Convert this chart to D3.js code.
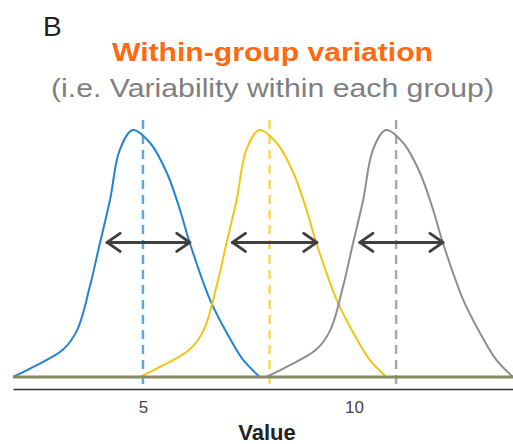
<!DOCTYPE html>
<html lang="en">
<head>
	<meta charset="UTF-8">
	<title>within-group variation</title>
	<style>
	body{ margin:0; background:#fff; }
	svg{ display:block; font-family:"Liberation Sans", Arial, sans-serif; }
	</style>
</head>
<body>
<div class="chart"></div>
<script src="https://d3js.org/d3.v7.min.js"></script>
<script>
// three groups, same spread, different means
var groups = ['g1', 'g2', 'g3'];
var means = [5, 8, 11];
var tickValues = [5, 10];

// density curves: [value, density]
var curveG1 = [[1.92,0],[2.39,0.016],[3.10,0.044],[3.44,0.076],[3.74,0.146],[3.98,0.217],[4.22,0.287],[4.45,0.368],[4.76,0.400],[5.17,0.379],[5.57,0.330],[5.88,0.270],[6.11,0.217],[6.59,0.125],[6.99,0.071],[7.37,0.028],[7.77,0]];
var curveG2 = [[4.92,0],[5.39,0.016],[6.10,0.044],[6.44,0.076],[6.74,0.146],[6.98,0.217],[7.22,0.287],[7.45,0.368],[7.76,0.400],[8.17,0.379],[8.57,0.330],[8.88,0.270],[9.11,0.217],[9.59,0.125],[9.99,0.071],[10.37,0.028],[10.77,0]];
var curveG3 = [[7.92,0],[8.39,0.016],[9.10,0.044],[9.44,0.076],[9.74,0.146],[9.98,0.217],[10.22,0.287],[10.45,0.368],[10.76,0.400],[11.17,0.379],[11.57,0.330],[11.88,0.270],[12.11,0.217],[12.59,0.125],[12.99,0.071],[13.37,0.028],[13.77,0]];

// spread arrows
var arrowFrom = [4.15, 7.12, 10.14];
var arrowTo = [6.11, 9.12, 12.11];
var arrowLevel = 0.218;

var lineColors = ['#2383d1', '#f2c512', '#8e8e8e'];
var dashColors = ['#5ca9df', '#f6d75c', '#a8a8a8'];

var W = 513, H = 444;
var svg = d3.select('.chart')
	.append('svg')
	.attr('width', W)
	.attr('height', H);

var x = d3.scaleLinear().domain([1.92, 13.77]).range([13, 513]);
var y = d3.scaleLinear().domain([0, 0.40]).range([377, 130]);

// titles
svg.append('text')
	.attr('x', 43).attr('y', 36)
	.style('font-size', '28px')
	.style('fill', '#222')
	.text('B');

svg.append('text')
	.attr('x', 112).attr('y', 61)
	.attr('textLength', 321)
	.attr('lengthAdjust', 'spacingAndGlyphs')
	.style('font-size', '25px')
	.style('font-weight', 'bold')
	.style('fill', '#ff6a10')
	.text('Within-group variation');

svg.append('text')
	.attr('x', 51).attr('y', 97)
	.attr('textLength', 443)
	.attr('lengthAdjust', 'spacingAndGlyphs')
	.style('font-size', '25px')
	.style('fill', '#7f7f7f')
	.text('(i.e. Variability within each group)');

// mean lines
svg.selectAll('.mean')
	.data(means)
	.enter().append('line')
	.attr('class', 'mean')
	.attr('x1', d => x(d)).attr('x2', d => x(d))
	.attr('y1', 120).attr('y2', 390)
	.style('stroke', (d, i) => dashColors[i])
	.style('stroke-width', 2.5)
	.style('stroke-dasharray', '9,6');

// density curves
var line = d3.line()
	.x(d => x(d[0]))
	.y(d => y(d[1]))
	.curve(d3.curveCatmullRom);

svg.selectAll('.dens')
	.data([curveG1, curveG2, curveG3])
	.enter().append('path')
	.attr('class', 'dens')
	.attr('d', line)
	.style('fill', 'none')
	.style('stroke', (d, i) => lineColors[i])
	.style('stroke-width', 2);

// zero line
svg.append('line')
	.attr('x1', 13).attr('x2', 513)
	.attr('y1', y(0)).attr('y2', y(0))
	.style('stroke', '#878a62')
	.style('stroke-width', 3);

// arrows with open heads
var ay = y(arrowLevel);
groups.forEach(function(g, i){
	var a = svg.append('g').attr('class', 'arrow')
		.style('fill', 'none')
		.style('stroke', '#404040')
		.style('stroke-width', 3)
		.style('stroke-linecap', 'round')
		.style('stroke-linejoin', 'round');
	var x0 = x(arrowFrom[i]), x1 = x(arrowTo[i]);
	a.append('line').attr('x1', x0).attr('x2', x1).attr('y1', ay).attr('y2', ay);
	a.append('path').attr('d', `M${x0+13},${ay-9}L${x0},${ay}L${x0+13},${ay+9}`);
	a.append('path').attr('d', `M${x1-13},${ay-9}L${x1},${ay}L${x1-13},${ay+9}`);
});

// x axis
var xAxis = d3.axisBottom(x)
	.tickValues(tickValues)
	.tickSize(0)
	.tickPadding(12);

var gx = svg.append('g')
	.attr('transform', 'translate(0,389)')
	.call(xAxis);
gx.select('.domain').style('stroke', '#333').style('stroke-width', 1.5);
gx.selectAll('text')
	.style('font-family', '"Liberation Sans", Arial, sans-serif')
	.style('font-size', '17px')
	.style('fill', '#444');

svg.append('text')
	.attr('x', 267).attr('y', 440)
	.attr('text-anchor', 'middle')
	.style('font-size', '22px')
	.style('font-weight', 'bold')
	.style('fill', '#222')
	.text('Value');
</script>
</body>
</html>
